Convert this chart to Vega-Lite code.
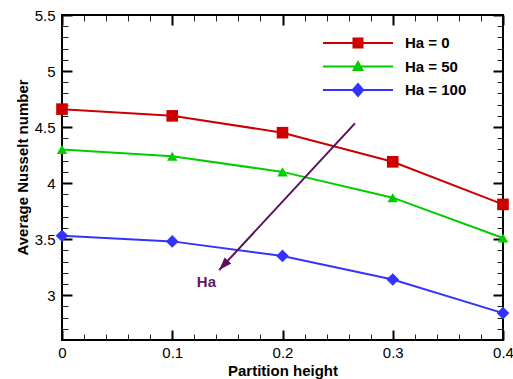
{
  "$schema": "https://vega.github.io/schema/vega-lite/v6.json",
  "width": 441,
  "height": 325,
  "autosize": "none",
  "padding": {"left": 62, "top": 15, "right": 10, "bottom": 39},
  "background": "white",
  "config": {
    "view": {"stroke": "#000", "strokeWidth": 2},
    "font": "Liberation Sans",
    "axis": {"domain": false}
  },
  "datasets": {
    "series": [
      {"h": 0, "nu": 4.66, "s": "Ha = 0"},
      {"h": 0.1, "nu": 4.6, "s": "Ha = 0"},
      {"h": 0.2, "nu": 4.45, "s": "Ha = 0"},
      {"h": 0.3, "nu": 4.19, "s": "Ha = 0"},
      {"h": 0.4, "nu": 3.81, "s": "Ha = 0"},
      {"h": 0, "nu": 4.3, "s": "Ha = 50"},
      {"h": 0.1, "nu": 4.24, "s": "Ha = 50"},
      {"h": 0.2, "nu": 4.1, "s": "Ha = 50"},
      {"h": 0.3, "nu": 3.87, "s": "Ha = 50"},
      {"h": 0.4, "nu": 3.51, "s": "Ha = 50"},
      {"h": 0, "nu": 3.53, "s": "Ha = 100"},
      {"h": 0.1, "nu": 3.48, "s": "Ha = 100"},
      {"h": 0.2, "nu": 3.35, "s": "Ha = 100"},
      {"h": 0.3, "nu": 3.14, "s": "Ha = 100"},
      {"h": 0.4, "nu": 2.84, "s": "Ha = 100"}
    ],
    "arrow": [{"x": 0.2657, "y": 4.533, "x2": 0.1425, "y2": 3.224}],
    "label": [{"x": 0.131, "y": 3.116, "t": "Ha"}]
  },
  "layer": [
    {
      "data": {"name": "series"},
      "mark": {"type": "line", "strokeWidth": 2},
      "encoding": {
        "x": {"field": "h", "type": "quantitative",
          "scale": {"domain": [0, 0.4], "nice": false, "zero": false},
          "axis": {"orient": "bottom", "tickCount": 100,
            "values": [0, 0.02, 0.04, 0.06, 0.08, 0.1, 0.12, 0.14, 0.16, 0.18, 0.2, 0.22, 0.24, 0.26, 0.28, 0.3, 0.32, 0.34, 0.36, 0.38, 0.4],
            "format": "~g", "labelExpr": "round(datum.value * 50) % 5 === 0 ? datum.label : ''",
            "ticks": false, "grid": true,
            "gridColor": {"condition": {"test": "round(datum.value * 50) % 5 === 0", "value": "#000"}, "value": "#222"},
            "gridWidth": {"condition": {"test": "round(datum.value * 50) % 5 === 0", "value": 2}, "value": 1},
            "gridDash": {"condition": {"test": "round(datum.value * 50) % 5 === 0", "value": [10, 305, 10, 1000]}, "value": [6, 313, 6, 1000]},
            "gridOpacity": 1,
            "labelFontSize": 15, "labelColor": "#000", "labelPadding": 5, "labelFlush": false, "labelOverlap": false,
            "title": "Partition height", "titleFontSize": 15, "titleFontWeight": "bold", "titleColor": "#000", "titlePadding": 3}},
        "y": {"field": "nu", "type": "quantitative",
          "scale": {"domain": [2.6, 5.5], "nice": false, "zero": false},
          "axis": {"orient": "left", "tickCount": 100,
            "values": [2.7, 2.8, 2.9, 3, 3.1, 3.2, 3.3, 3.4, 3.5, 3.6, 3.7, 3.8, 3.9, 4, 4.1, 4.2, 4.3, 4.4, 4.5, 4.6, 4.7, 4.8, 4.9, 5, 5.1, 5.2, 5.3, 5.4, 5.5],
            "format": "~g", "labelExpr": "round(datum.value * 10) % 5 === 0 ? datum.label : ''",
            "ticks": false, "grid": true,
            "gridColor": {"condition": {"test": "round(datum.value * 10) % 5 === 0", "value": "#000"}, "value": "#222"},
            "gridWidth": {"condition": {"test": "round(datum.value * 10) % 5 === 0", "value": 2}, "value": 1},
            "gridDash": {"condition": {"test": "round(datum.value * 10) % 5 === 0", "value": [10, 421, 10, 1000]}, "value": [6, 429, 6, 1000]},
            "gridOpacity": 1,
            "labelFontSize": 15, "labelColor": "#000", "labelPadding": 7, "labelFlush": false, "labelOverlap": false,
            "title": "Average Nusselt number", "titleFontSize": 15, "titleFontWeight": "bold", "titleColor": "#000", "titlePadding": 4, "titleY": 152}},
        "color": {"field": "s", "type": "nominal",
          "scale": {"domain": ["Ha = 0", "Ha = 50", "Ha = 100"], "range": ["#cc0000", "#00cc00", "#3333ff"]}}
      }
    },
    {
      "data": {"name": "series"},
      "mark": {"type": "point", "filled": true, "opacity": 1, "strokeWidth": 0},
      "encoding": {
        "x": {"field": "h", "type": "quantitative", "scale": {"domain": [0, 0.4], "nice": false, "zero": false}},
        "y": {"field": "nu", "type": "quantitative", "scale": {"domain": [2.6, 5.5], "nice": false, "zero": false}},
        "color": {"field": "s", "type": "nominal",
          "scale": {"domain": ["Ha = 0", "Ha = 50", "Ha = 100"], "range": ["#cc0000", "#00cc00", "#3333ff"]},
          "legend": {"orient": "none", "legendX": 286, "legendY": 18, "title": null, "padding": 0,
            "labelFontSize": 15, "labelFontWeight": "bold", "labelColor": "#000", "labelFont": "Liberation Sans",
            "symbolSize": 400, "symbolStrokeWidth": 0, "symbolOpacity": 1, "labelOffset": 37, "rowPadding": 5.5,
            "encode": {"symbols": {"update": {
              "shape": {"signal": "datum.value === 'Ha = 0' ? 'M-3.5,-0.1H3.5V0.1H-3.5Z M-0.55,-0.55H0.55V0.55H-0.55Z' : datum.value === 'Ha = 50' ? 'M-3.5,-0.1H3.5V0.1H-3.5Z M0,-0.65L0.6,0.45L-0.6,0.45Z' : 'M-3.5,-0.1H3.5V0.1H-3.5Z M0,-0.75L0.65,0L0,0.75L-0.65,0Z'"},
              "strokeWidth": {"value": 0}}}}}},
        "shape": {"field": "s", "type": "nominal",
          "scale": {"domain": ["Ha = 50", "Ha = 0", "Ha = 100"], "range": ["triangle-up", "square", "diamond"]},
          "legend": null},
        "size": {"field": "s", "type": "nominal",
          "scale": {"domain": ["Ha = 100", "Ha = 0", "Ha = 50"], "range": [160, 110, 140]},
          "legend": null}
      }
    },
    {
      "data": {"name": "arrow"},
      "mark": {"type": "rule", "color": "#5c0f5c", "strokeWidth": 2},
      "encoding": {
        "x": {"field": "x", "type": "quantitative", "scale": {"domain": [0, 0.4], "nice": false, "zero": false}},
        "y": {"field": "y", "type": "quantitative", "scale": {"domain": [2.6, 5.5], "nice": false, "zero": false}},
        "x2": {"field": "x2"},
        "y2": {"field": "y2"}
      }
    },
    {
      "data": {"name": "arrow"},
      "mark": {"type": "point", "shape": "M0,0L0.45,1.3L-0.45,1.3Z", "size": 400, "angle": 222.8,
        "filled": true, "opacity": 1, "color": "#5c0f5c", "strokeWidth": 0},
      "encoding": {
        "x": {"field": "x2", "type": "quantitative", "scale": {"domain": [0, 0.4], "nice": false, "zero": false}},
        "y": {"field": "y2", "type": "quantitative", "scale": {"domain": [2.6, 5.5], "nice": false, "zero": false}}
      }
    },
    {
      "data": {"name": "label"},
      "mark": {"type": "text", "fontSize": 15, "fontWeight": "bold", "color": "#5c1a5c", "font": "Liberation Sans"},
      "encoding": {
        "x": {"field": "x", "type": "quantitative", "scale": {"domain": [0, 0.4], "nice": false, "zero": false}},
        "y": {"field": "y", "type": "quantitative", "scale": {"domain": [2.6, 5.5], "nice": false, "zero": false}},
        "text": {"field": "t"}
      }
    }
  ]
}
